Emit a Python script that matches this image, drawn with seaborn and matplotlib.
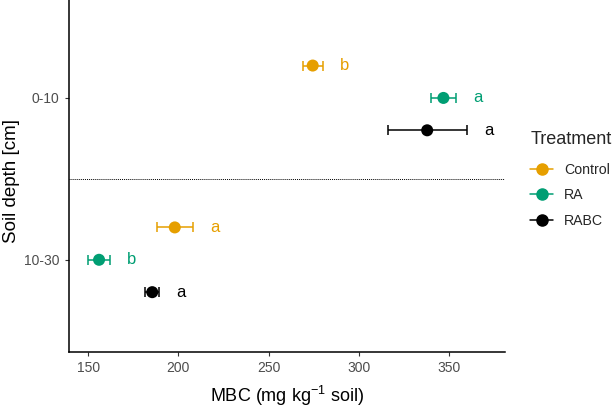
import matplotlib
matplotlib.use("Agg")
import matplotlib.pyplot as plt
from matplotlib.lines import Line2D
import seaborn as sns
import pandas as pd
import numpy as np

depths = ["0-10", "10-30"]
treatments = ["Control", "RA", "RABC"]
colors = ["#E69F00", "#009E73", "#000000"]
depth_col = ["0-10", "0-10", "0-10", "10-30", "10-30", "10-30"]
treat_col = ["Control", "RA", "RABC", "Control", "RA", "RABC"]
mbc_mean = [274.5, 347.0, 338.0, 198.0, 156.0, 185.5]
mbc_se = [5.5, 7.0, 22.0, 10.0, 6.0, 4.0]
letters = ["b", "a", "a", "a", "b", "a"]

sns.set_theme(style="ticks")
plt.rcParams["font.family"] = ["Liberation Sans", "DejaVu Sans"]
plt.rcParams["mathtext.fontset"] = "custom"
plt.rcParams["mathtext.rm"] = "Liberation Sans"
plt.rcParams["mathtext.it"] = "Liberation Sans"

df = pd.DataFrame({"Depth": depth_col, "Treatment": treat_col,
                   "MBC": mbc_mean, "se": mbc_se, "letter": letters})
# numeric y: 0-10 on top (2), 10-30 bottom (1); dodge control top
depth_pos = {"0-10": 2, "10-30": 1}
dodge = {"Control": 0.2, "RA": 0.0, "RABC": -0.2}
df["y"] = df["Depth"].map(depth_pos) + df["Treatment"].map(dodge)
pal = dict(zip(treatments, colors))

fig = plt.figure(figsize=(6.14, 4.07), dpi=100)
ax = fig.add_axes([0.112, 0.135, 0.71, 0.865])

for _, r in df.iterrows():
    ax.errorbar(r["MBC"], r["y"], xerr=r["se"], fmt="none", ecolor=pal[r["Treatment"]],
                elinewidth=1.1, capsize=3.3, capthick=1.1, zorder=2)
sns.scatterplot(data=df, x="MBC", y="y", hue="Treatment", hue_order=treatments,
                palette=pal, s=75, edgecolor="none", legend=False, ax=ax, zorder=3)
for _, r in df.iterrows():
    ax.text(r["MBC"] + r["se"] + 12, r["y"], r["letter"], color=pal[r["Treatment"]],
            fontsize=12, ha="center", va="center")

ax.axhline(1.5, color="black", linestyle=(0, (1, 1)), linewidth=0.7)

ax.set_xlim(139.2, 381)
ax.set_ylim(0.43, 2.605)
ax.set_xticks([150, 200, 250, 300, 350])
ax.set_yticks([2, 1])
ax.set_yticklabels(depths)
ax.tick_params(axis="both", colors="#333333", labelcolor="#4D4D4D", labelsize=10, length=3, width=0.8)
ax.set_xlabel(r"MBC (mg kg$^{-1}$ soil)", fontsize=13, color="black", labelpad=6)
ax.set_ylabel("Soil depth [cm]", fontsize=13.5, color="black")
ax.yaxis.set_label_coords(-0.112, 0.486)
sns.despine(ax=ax)
for s in ["left", "bottom"]:
    ax.spines[s].set_color("black")
    ax.spines[s].set_linewidth(1.1)

handles = [Line2D([0], [0], color=c, marker="o", markersize=8, linewidth=1.1) for c in colors]
leg = fig.legend(handles, treatments, title="Treatment", loc="center left",
                 bbox_to_anchor=(0.843, 0.56), frameon=False, fontsize=10.2,
                 title_fontsize=13, handlelength=1.6, labelspacing=0.8, alignment="left")
leg._legend_box.sep = 11

fig.savefig("out.png", dpi=100)
